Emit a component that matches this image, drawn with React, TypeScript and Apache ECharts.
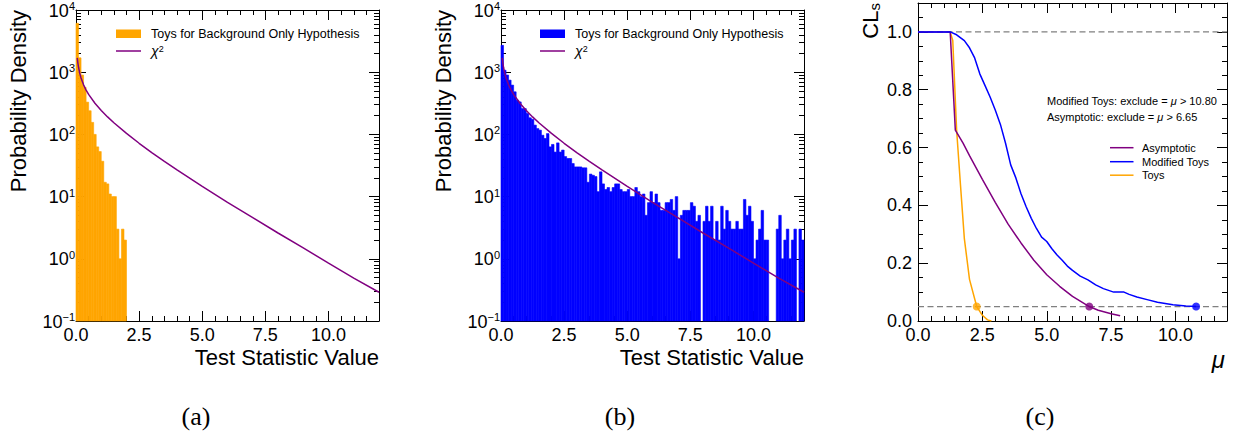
import React, { useEffect, useRef } from "react";
import * as echarts from "echarts";

const FONT = "'Liberation Sans', Arial, Helvetica, sans-serif";
const SERIF = "'Liberation Serif', 'DejaVu Serif', serif";

// ---------- data ----------
const BIN_WIDTH = 0.1;
// panel (a): toys for background-only hypothesis (bins of 0.1 from 0)
const toysCountsA = [6100, 1700, 900, 570, 330, 240, 156, 100, 63, 53, 37, 17, 16, 11, 10, 10, 3, 1, 3, 2];
// panel (b): toys for background-only hypothesis (bins of 0.1 from 0 to 12)
const toysCountsB = [
  2700, 1075, 900, 745, 620, 484, 355, 333, 260, 260, 217, 185, 175, 141, 124, 117, 97, 86, 103, 63,
  69, 52, 73, 52, 56, 44, 41, 41, 34, 30, 30, 30, 29, 29, 17, 23, 22, 21, 12, 25,
  16, 13, 14, 12, 14, 16, 16, 13, 12, 12, 13, 10, 10, 14, 12, 10, 11, 5, 8, 12,
  8, 11, 8, 6, 6, 8, 8, 9, 6, 10, 1, 5, 6, 6, 6, 8, 7, 4, 5, 0,
  4, 7, 4, 7, 2, 4, 2, 7, 3, 6, 4, 3, 3, 4, 3, 3, 9, 5, 7, 4,
  1, 2, 3, 6, 2, 2, 0, 0, 0, 3, 5, 1, 2, 3, 1, 2, 3, 0, 3, 2,
];
// chi-square reference curve
const chi2X = [0.05, 0.075, 0.1, 0.15, 0.2, 0.3, 0.4, 0.5, 0.75, 1, 1.25, 1.5, 2, 2.5, 3, 3.5, 4, 5, 6, 7, 8, 9, 10, 11, 12];
const chi2Y = [1700, 1400, 1200, 956, 807, 627, 516, 440, 317, 242, 191, 154, 104, 72, 51, 37, 27, 14.6, 8.1, 4.6, 2.6, 1.5, 0.85, 0.49, 0.29];

// panel (c): CLs curves
const muAsymptotic = [0, 0.5, 1.0, 1.25, 1.45, 1.75, 2.0, 2.5, 3.0, 3.5, 4.0, 4.5, 5.0, 5.5, 6.0, 6.65, 7.0, 7.5, 7.85];
const clsAsymptotic = [1, 1, 1, 1, 0.66, 0.615, 0.572, 0.49, 0.41, 0.335, 0.27, 0.21, 0.16, 0.12, 0.085, 0.05, 0.037, 0.025, 0.018];
const muModified = [0, 0.5, 1.0, 1.25, 1.5, 1.8, 2.0, 2.2, 2.4, 2.6, 2.8, 3.0, 3.2, 3.4, 3.6, 3.8, 4.0, 4.2, 4.4, 4.6, 4.8, 5.0, 5.2, 5.4, 5.6, 5.8, 6.0, 6.3, 6.6, 6.9, 7.2, 7.6, 8.0, 8.2, 8.5, 8.9, 9.3, 9.9, 10.4, 10.8];
const clsModified = [1, 1, 1, 1, 0.99, 0.97, 0.945, 0.91, 0.855, 0.815, 0.775, 0.73, 0.68, 0.615, 0.54, 0.495, 0.44, 0.395, 0.355, 0.32, 0.29, 0.275, 0.25, 0.228, 0.21, 0.19, 0.175, 0.155, 0.142, 0.125, 0.112, 0.1, 0.1, 0.092, 0.083, 0.074, 0.065, 0.056, 0.052, 0.05];
const muToys = [1.25, 1.35, 1.5, 1.65, 1.8, 2.0, 2.28, 2.5, 2.7, 2.85];
const clsToys = [1, 0.97, 0.66, 0.47, 0.285, 0.144, 0.05, 0.02, 0.004, 0.0];
const excludeMu = [2.28, 6.65, 10.8];
const excludeCls = [0.05, 0.05, 0.05];
const clsReferenceLines = [1.0, 0.05];

// ticks
const xTickValues = [0, 2.5, 5, 7.5, 10];
const xTickLabels = ["0.0", "2.5", "5.0", "7.5", "10.0"];
const xMinorTicks = [0.5, 1, 1.5, 2, 3, 3.5, 4, 4.5, 5.5, 6, 6.5, 7, 8, 8.5, 9, 9.5, 10.5, 11, 11.5];
const clsTickValues = [0, 0.2, 0.4, 0.6, 0.8, 1.0];
const clsTickLabels = ["0.0", "0.2", "0.4", "0.6", "0.8", "1.0"];
const clsMinorTicks = [0.05, 0.1, 0.15, 0.25, 0.3, 0.35, 0.45, 0.5, 0.55, 0.65, 0.7, 0.75, 0.85, 0.9, 0.95, 1.05];
const logDecades = [0.1, 1, 10, 100, 1000];
const logMinorMultipliers = [2, 3, 4, 5, 6, 7, 8, 9];

const ORANGE = "#FFA500";
const BLUE = "#0000FF";
const PURPLE = "#800080";

// ---------- helpers ----------
const black = { color: "#000", width: 1 };
const majorTick = { show: true, inside: true, length: 10, lineStyle: black };

function pick(values: number[], labels: string[], v: number) {
  const i = values.findIndex((t) => Math.abs(t - v) < 1e-6);
  return i >= 0 ? labels[i] : "";
}

function xAxes(gridIndex: number) {
  const base: any = {
    type: "value", gridIndex, min: 0, max: 12, interval: 2.5,
    splitLine: { show: false },
    axisLine: { show: true, onZero: false, lineStyle: black },
  };
  const minor = { show: true, inside: true, length: 5, lineStyle: black, customValues: xMinorTicks };
  const noLine = { show: false, onZero: false };
  return [
    {
      ...base, position: "bottom", axisTick: majorTick,
      axisLabel: { show: true, margin: 5, color: "#000", fontSize: 18, fontFamily: FONT, formatter: (v: number) => pick(xTickValues, xTickLabels, v) },
    },
    { ...base, position: "bottom", axisLine: noLine, axisTick: minor, axisLabel: { show: false } },
    { ...base, position: "top", axisTick: majorTick, axisLabel: { show: false } },
    { ...base, position: "top", axisLine: noLine, axisTick: minor, axisLabel: { show: false } },
  ];
}

const logMinor: number[] = [];
logDecades.forEach((d) => logMinorMultipliers.forEach((m) => logMinor.push(+(m * d).toPrecision(3))));

function logYAxes(gridIndex: number) {
  const base: any = {
    type: "log", logBase: 10, gridIndex, min: 0.1, max: 10000,
    splitLine: { show: false },
    axisLine: { show: true, onZero: false, lineStyle: black },
  };
  const minor = { show: true, inside: true, length: 5, lineStyle: black, customValues: logMinor };
  const noLine = { show: false, onZero: false };
  return [
    {
      ...base, position: "left", axisTick: majorTick,
      axisLabel: {
        show: true, margin: 1, color: "#000", fontFamily: FONT, fontSize: 18,
        formatter: (v: number) => {
          const e = Math.round(Math.log10(v));
          return `{b|10}{s|${e < 0 ? "\u2212" + -e : e}}`;
        },
        rich: {
          b: { fontSize: 18, fontFamily: FONT, color: "#000", padding: [1, 0, 0, 0] },
          s: { fontSize: 11, lineHeight: 13, fontFamily: FONT, color: "#000", verticalAlign: "top" },
        },
      },
    },
    { ...base, position: "left", axisLine: noLine, axisTick: minor, axisLabel: { show: false } },
    { ...base, position: "right", axisTick: majorTick, axisLabel: { show: false } },
    { ...base, position: "right", axisLine: noLine, axisTick: minor, axisLabel: { show: false } },
  ];
}

function clsYAxes(gridIndex: number) {
  const base: any = {
    type: "value", gridIndex, min: 0, max: 1.1, interval: 0.2,
    splitLine: { show: false },
    axisLine: { show: true, onZero: false, lineStyle: black },
  };
  const minor = { show: true, inside: true, length: 5, lineStyle: black, customValues: clsMinorTicks };
  const noLine = { show: false, onZero: false };
  return [
    {
      ...base, position: "left", axisTick: majorTick,
      axisLabel: { show: true, margin: 6, color: "#000", fontSize: 18, fontFamily: FONT, formatter: (v: number) => pick(clsTickValues, clsTickLabels, v) },
    },
    { ...base, position: "left", axisLine: noLine, axisTick: minor, axisLabel: { show: false } },
    { ...base, position: "right", axisTick: majorTick, axisLabel: { show: false } },
    { ...base, position: "right", axisLine: noLine, axisTick: minor, axisLabel: { show: false } },
  ];
}

function histSeries(name: string, counts: number[], color: string, axisIndex: number) {
  const data = counts
    .map((c, i) => [i * BIN_WIDTH, (i + 1) * BIN_WIDTH, c])
    .filter((d) => d[2] > 0);
  return {
    type: "custom", name, xAxisIndex: axisIndex, yAxisIndex: axisIndex, data, silent: true, z: 2,
    encode: { x: [0, 1], y: 2 },
    renderItem: (_params: any, api: any) => {
      const top = api.coord([api.value(0), api.value(2)]);
      const bot = api.coord([api.value(1), 0.1]);
      return {
        type: "rect",
        shape: { x: top[0], y: top[1], width: bot[0] - top[0], height: bot[1] - top[1] },
        style: { fill: color, stroke: color, lineWidth: 0.6 },
      };
    },
  };
}

function lineSeries(name: string, xs: number[], ys: number[], color: string, axisIndex: number, z: number, dashed = false) {
  return {
    type: "line", name, xAxisIndex: axisIndex, yAxisIndex: axisIndex, z,
    data: xs.map((x, i) => [x, ys[i]]),
    showSymbol: false, symbol: "none", silent: true, smooth: false,
    lineStyle: { color, width: dashed ? 1.3 : 1.5, type: dashed ? [6, 3.5] : "solid" },
  };
}

function buildOption() {
  const series: any[] = [
    histSeries("Toys for Background Only Hypothesis (a)", toysCountsA, ORANGE, 0),
    lineSeries("chi2 (a)", chi2X, chi2Y, PURPLE, 0, 3),
    histSeries("Toys for Background Only Hypothesis (b)", toysCountsB, BLUE, 4),
    lineSeries("chi2 (b)", chi2X, chi2Y, PURPLE, 4, 3),
  ];
  clsReferenceLines.forEach((c, i) =>
    series.push(lineSeries("ref" + i, [0, 12], [c, c], "#808080", 8, 1, true))
  );
  series.push(lineSeries("Toys", muToys, clsToys, ORANGE, 8, 3));
  series.push(lineSeries("Asymptotic", muAsymptotic, clsAsymptotic, PURPLE, 8, 4));
  series.push(lineSeries("Modified Toys", muModified, clsModified, BLUE, 8, 5));
  const dotColors = [ORANGE, PURPLE, BLUE];
  series.push({
    type: "scatter", xAxisIndex: 8, yAxisIndex: 8, z: 6, silent: true, symbolSize: 8,
    data: excludeMu.map((m, i) => ({ value: [m, excludeCls[i]], itemStyle: { color: dotColors[i] } })),
  });

  const txt = (text: string, x: number, y: number, extra: any = {}, styleExtra: any = {}) => ({
    type: "text", x, y, silent: true, ...extra,
    style: { text, fill: "#000", fontFamily: FONT, fontSize: 12, verticalAlign: "middle", align: "left", ...styleExtra },
  });

  const chiRich = {
    i: { fontStyle: "italic", fontSize: 14, fontFamily: FONT, fill: "#000" },
    s: { fontSize: 9, fontFamily: FONT, fill: "#000", verticalAlign: "top" },
  };

  const graphics: any[] = [];
  [0, 424].forEach((dx, k) => {
    graphics.push({ type: "rect", silent: true, shape: { x: 116 + dx, y: 29.5, width: 25, height: 8.5 }, style: { fill: k === 0 ? ORANGE : BLUE } });
    graphics.push(txt("Toys for Background Only Hypothesis", 151 + dx, 34, {}, { fontSize: 12.5 }));
    graphics.push({ type: "line", silent: true, shape: { x1: 116 + dx, y1: 51, x2: 141 + dx, y2: 51 }, style: { stroke: PURPLE, lineWidth: 1.5 } });
    graphics.push(txt("{i|\u03c7}{s|2}", 151 + dx, 51, {}, { rich: chiRich }));
  });
  // axis titles
  graphics.push(txt("Probability Density", 18.5, 10, { rotation: Math.PI / 2 }, { fontSize: 22, align: "right" }));
  graphics.push(txt("Probability Density", 443, 10, { rotation: Math.PI / 2 }, { fontSize: 22, align: "right" }));
  graphics.push(txt("Test Statistic Value", 379, 357, {}, { fontSize: 22, align: "right" }));
  graphics.push(txt("Test Statistic Value", 804, 357, {}, { fontSize: 22, align: "right" }));
  graphics.push(
    txt("{a|CL}{b|s}", 870, 3, { rotation: Math.PI / 2 }, {
      fontSize: 22, align: "right",
      rich: { a: { fontSize: 22, fontFamily: FONT, fill: "#000" }, b: { fontSize: 15, fontFamily: FONT, fill: "#000", verticalAlign: "bottom", padding: [8, 0, 0, 0] } },
    })
  );
  graphics.push(txt("\u03bc", 1225, 359, {}, { fontSize: 24, fontStyle: "italic", align: "right" }));
  // annotations
  const muRich = { i: { fontStyle: "italic", fontSize: 11, fontFamily: FONT, fill: "#000" } };
  graphics.push(txt("Modified Toys: exclude = {i|\u03bc} > 10.80", 1047, 100.5, {}, { fontSize: 11, rich: muRich }));
  graphics.push(txt("Asymptotic: exclude = {i|\u03bc} > 6.65", 1047, 116.7, {}, { fontSize: 11, rich: muRich }));
  // legend (c)
  const legC: [string, string, number][] = [["Asymptotic", PURPLE, 147.7], ["Modified Toys", BLUE, 161.7], ["Toys", ORANGE, 175.2]];
  legC.forEach(([name, color, y]) => {
    graphics.push({ type: "line", silent: true, shape: { x1: 1110, y1: y, x2: 1133.5, y2: y }, style: { stroke: color, lineWidth: 1.5 } });
    graphics.push(txt(name, 1142, y, {}, { fontSize: 11 }));
  });
  // captions
  [["(a)", 196], ["(b)", 620], ["(c)", 1040]].forEach(([t, x]) =>
    graphics.push(txt(t as string, x as number, 416, {}, { fontSize: 26, fontFamily: SERIF, align: "center" }))
  );

  return {
    animation: false,
    backgroundColor: "#fff",
    grid: [
      { left: 76, top: 10, width: 303, height: 311, containLabel: false, outerBoundsMode: "none" },
      { left: 501, top: 10, width: 303, height: 311, containLabel: false, outerBoundsMode: "none" },
      { left: 918, top: 3, width: 309, height: 318, containLabel: false, outerBoundsMode: "none" },
    ],
    xAxis: [...xAxes(0), ...xAxes(1), ...xAxes(2)],
    yAxis: [...logYAxes(0), ...logYAxes(1), ...clsYAxes(2)],
    series,
    graphic: { elements: graphics },
  };
}

export default function App() {
  const ref = useRef<HTMLDivElement>(null);
  useEffect(() => {
    if (!ref.current) return;
    const chart = echarts.init(ref.current, null, { renderer: "svg" });
    chart.setOption(buildOption() as any);
    return () => chart.dispose();
  }, []);
  return (
    <div
      ref={ref}
      style={{ position: "fixed", left: 0, top: 0, width: 1237, height: 438, background: "#fff" }}
    />
  );
}
